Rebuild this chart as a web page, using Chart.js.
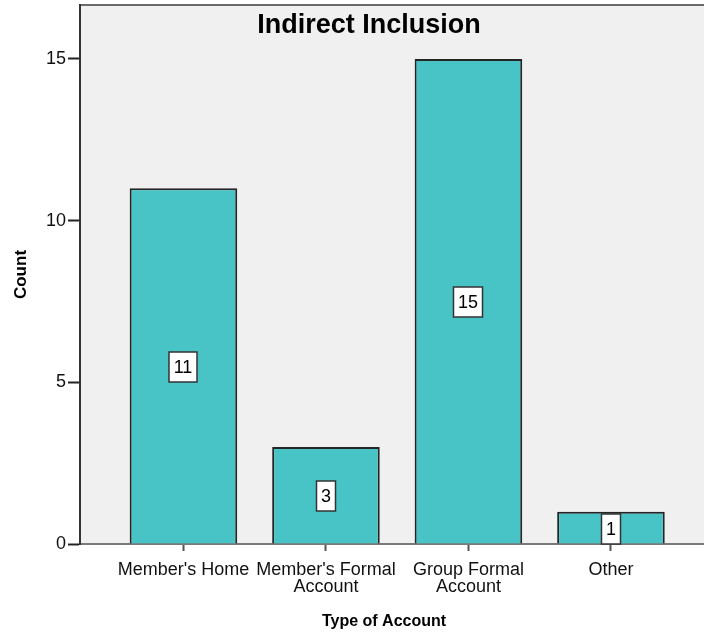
<!DOCTYPE html>
<html>
<head>
<meta charset="utf-8">
<title>Indirect Inclusion</title>
<script src="https://cdn.jsdelivr.net/npm/chart.js@4.4.1/dist/chart.umd.min.js"></script>
<style>
  html, body { margin: 0; padding: 0; background: #ffffff; }
  #wrap { width: 704px; height: 636px; }
</style>
</head>
<body>
<div id="wrap"><canvas id="chart" width="704" height="636"></canvas></div>
<script>
// Account types and their counts
const categories = [
  "Member's Home",
  ["Member's Formal", "Account"],
  ["Group Formal", "Account"],
  "Other"
];
const counts = [11, 3, 15, 1];
const yTicks = [0, 5, 10, 15];
const chartTitle = 'Indirect Inclusion';
const xTitle = 'Type of Account';
const yTitle = 'Count';

const FONT = '"Liberation Sans", Arial, sans-serif';
const BAR_FILL = '#48c3c6';
const BAR_EDGE = '#252525';
const PLOT_BG = '#f0f0f0';

// Plot background, frame and title text
const framePlugin = {
  id: 'frame',
  beforeDraw(chart) {
    const { ctx, chartArea: a } = chart;
    ctx.save();
    ctx.fillStyle = PLOT_BG;
    ctx.fillRect(a.left, a.top, a.right - a.left, a.bottom - a.top);
    ctx.strokeStyle = '#6a6a6a';
    ctx.lineWidth = 2;
    ctx.beginPath();
    ctx.moveTo(a.left, a.top);
    ctx.lineTo(a.right, a.top);
    ctx.stroke();
    ctx.restore();
  },
  afterDraw(chart) {
    const { ctx } = chart;
    ctx.save();
    ctx.fillStyle = '#000';
    ctx.textAlign = 'center';
    ctx.textBaseline = 'middle';
    ctx.font = 'bold 27px ' + FONT;
    ctx.fillText(chartTitle, 369, 26);
    ctx.font = 'bold 16px ' + FONT;
    ctx.fillText(xTitle, 384, 622);
    ctx.restore();
  }
};

// Boxed value labels at the middle of each bar
const valueLabels = {
  id: 'valueLabels',
  afterDatasetsDraw(chart) {
    const { ctx } = chart;
    const yScale = chart.scales.y;
    const meta = chart.getDatasetMeta(0);
    ctx.save();
    ctx.font = '18px ' + FONT;
    ctx.textAlign = 'center';
    ctx.textBaseline = 'middle';
    meta.data.forEach((bar, i) => {
      const v = counts[i];
      const text = String(v);
      const cx = Math.round(bar.x);
      const cy = Math.round(yScale.getPixelForValue(v / 2)) + 1;
      const w = Math.round(ctx.measureText(text).width) + 9;
      const h = 30;
      ctx.fillStyle = '#ffffff';
      ctx.fillRect(cx - w / 2, cy - h / 2, w, h);
      ctx.strokeStyle = '#333';
      ctx.lineWidth = 1.5;
      ctx.strokeRect(cx - w / 2, cy - h / 2, w, h);
      ctx.fillStyle = '#000';
      ctx.fillText(text, cx, cy + 1);
    });
    ctx.restore();
  }
};

new Chart(document.getElementById('chart'), {
  type: 'bar',
  data: {
    datasets: [{
      data: counts.map((c, i) => ({ x: i, y: c })),
      backgroundColor: BAR_FILL,
      borderColor: BAR_EDGE,
      borderWidth: 2,
      borderSkipped: 'bottom',
      categoryPercentage: 1,
      barPercentage: 0.755
    }]
  },
  options: {
    responsive: false,
    animation: false,
    layout: { padding: { top: 5, right: 0, left: 0, bottom: 0 } },
    plugins: {
      legend: { display: false },
      tooltip: { enabled: false }
    },
    scales: {
      x: {
        type: 'linear',
        offset: false,
        min: -0.726,
        max: 3.653,
        afterBuildTicks(scale) {
          scale.ticks = categories.map((_, i) => ({ value: i }));
        },
        afterFit(scale) {
          scale.height = 92;
          scale.paddingLeft = 0;
          scale.paddingRight = 0;
        },
        grid: {
          offset: false,
          drawOnChartArea: false,
          drawTicks: true,
          tickLength: 7,
          tickWidth: 2,
          tickColor: '#555'
        },
        border: { display: true, color: '#7a7a7a', width: 2 },
        ticks: {
          autoSkip: false,
          maxRotation: 0,
          padding: 10,
          color: '#111',
          font: { family: FONT, size: 18, lineHeight: 0.95 },
          callback: (v) => categories[v]
        }
      },
      y: {
        min: 0,
        max: 16.67,
        afterBuildTicks(scale) {
          scale.ticks = yTicks.map(v => ({ value: v }));
        },
        afterFit(scale) {
          scale.width = 80;
          scale.paddingTop = 0;
          scale.paddingBottom = 0;
        },
        grid: {
          drawOnChartArea: false,
          drawTicks: true,
          tickLength: 12,
          tickWidth: 2,
          tickColor: '#222'
        },
        border: { display: true, color: '#333', width: 2 },
        ticks: {
          padding: 2,
          color: '#111',
          font: { family: FONT, size: 18 }
        },
        title: {
          display: true,
          text: yTitle,
          color: '#000',
          font: { family: FONT, size: 17, weight: 'bold' },
          padding: { top: 11, bottom: 0 }
        }
      }
    }
  },
  plugins: [framePlugin, valueLabels]
});
</script>
</body>
</html>
